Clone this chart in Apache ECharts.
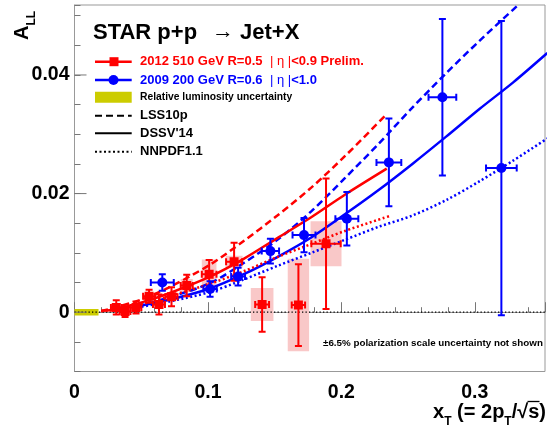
<!DOCTYPE html>
<html><head><meta charset="utf-8">
<script src="https://cdn.jsdelivr.net/npm/echarts@6/dist/echarts.min.js"></script>
<style>html,body{margin:0;padding:0;background:#fff}#c{width:548px;height:428px}</style>
</head><body><div id="c"></div>
<script>
// ---- data ----
const redX  = [0.0313,0.0379,0.0461,0.0559,0.0633,0.0727,0.0841,0.1009,0.1196,0.1406,0.1678,0.1885];
const redY  = [0.0008,0.0001,0.0008,0.0027,0.0013,0.0026,0.0045,0.0064,0.0085,0.0013,0.0012,0.01155];
const redEx = [0.0040,0.0040,0.0040,0.0045,0.0045,0.0045,0.0045,0.0055,0.0060,0.0052,0.0050,0.0110];
const redEy = [0.0012,0.0009,0.0010,0.0011,0.0017,0.0016,0.0018,0.0024,0.0032,0.0046,0.0069,0.0110];
const redSysX = [0.0035,0.0035,0.0035,0.0040,0.0040,0.0040,0.0045,0.0055,0.0064,0.0085,0.0080,0.0116];
const redSysY = [0.0003,0.0003,0.0003,0.0004,0.0004,0.0005,0.0011,0.0025,0.0010,0.0028,0.0078,0.0038];

const blueX  = [0.0658,0.1016,0.1226,0.1468,0.1720,0.2041,0.2356,0.2757,0.3199];
const blueY  = [0.0050,0.0039,0.0060,0.0103,0.0130,0.01575,0.02526,0.03625,0.0243];
const blueEx = [0.0086,0.0050,0.0052,0.0065,0.0086,0.0086,0.0093,0.0104,0.0115];
const blueEy = [0.0014,0.0013,0.0015,0.0021,0.0029,0.0045,0.0074,0.0132,0.0248];

const lss510  = [[0.02,0.0002],[0.0306,0.0008],[0.051,0.0022],[0.071,0.0042],[0.1015,0.0080],[0.1268,0.0120],[0.152,0.0163],[0.1774,0.0210],[0.2026,0.0263],[0.234,0.0334]];
const dssv510 = [[0.02,0.0002],[0.0306,0.0005],[0.051,0.0017],[0.071,0.0032],[0.1015,0.0060],[0.1268,0.0090],[0.152,0.0125],[0.1774,0.0160],[0.2026,0.0198],[0.234,0.0242]];
const nnpdf510= [[0.02,0.0002],[0.0306,0.0004],[0.051,0.0014],[0.071,0.0027],[0.1015,0.0048],[0.1268,0.0069],[0.152,0.0093],[0.1774,0.0115],[0.2026,0.0137],[0.236,0.0162]];
const lss200  = [[0.047,0.0010],[0.071,0.0025],[0.1015,0.0049],[0.1268,0.0083],[0.152,0.0122],[0.1774,0.0170],[0.2026,0.0226],[0.2279,0.0284],[0.2532,0.0345],[0.2785,0.0403],[0.3037,0.0458],[0.3325,0.0518]];
const dssv200 = [[0.047,0.0010],[0.071,0.0021],[0.1015,0.0040],[0.1268,0.0064],[0.152,0.0093],[0.1774,0.0126],[0.2026,0.0165],[0.2279,0.0206],[0.2532,0.0250],[0.2785,0.0296],[0.3037,0.0343],[0.329,0.0388],[0.3543,0.0437]];
const nnpdf200= [[0.047,0.0008],[0.071,0.0018],[0.1015,0.0034],[0.1268,0.0055],[0.152,0.0078],[0.1774,0.0100],[0.2026,0.0122],[0.2279,0.0144],[0.2532,0.0163],[0.2785,0.0189],[0.3037,0.0221],[0.329,0.0256],[0.3543,0.0293]];

const lumiBand = [0, 0.018, 0.00055];   // x from, x to, half height
const yMajorTicks = [0, 0.02, 0.04];

// ---- chart ----
const FONT = '"Liberation Sans", Arial, Helvetica, sans-serif';
const RED = '#ff0000', BLUE = '#0000ff';
const chart = echarts.init(document.getElementById('c'), null, {renderer:'canvas'});

function errRender(color, isSquare) {
  return function(params, api) {
    const x = api.value(0), y = api.value(1), ex = api.value(2), ey = api.value(3);
    const c = api.coord([x, y]);
    const l = api.coord([x - ex, y]), r = api.coord([x + ex, y]);
    const t = api.coord([x, y + ey]), b = api.coord([x, y - ey]);
    const st = {stroke: color, lineWidth: 2};
    const cap = 3.5;
    const ch = [
      {type:'line', shape:{x1:l[0], y1:c[1], x2:r[0], y2:c[1]}, style:st},
      {type:'line', shape:{x1:c[0], y1:t[1], x2:c[0], y2:b[1]}, style:st},
      {type:'line', shape:{x1:l[0], y1:c[1]-cap, x2:l[0], y2:c[1]+cap}, style:st},
      {type:'line', shape:{x1:r[0], y1:c[1]-cap, x2:r[0], y2:c[1]+cap}, style:st},
      {type:'line', shape:{x1:c[0]-cap, y1:t[1], x2:c[0]+cap, y2:t[1]}, style:st},
      {type:'line', shape:{x1:c[0]-cap, y1:b[1], x2:c[0]+cap, y2:b[1]}, style:st}
    ];
    if (isSquare) ch.push({type:'rect', shape:{x:c[0]-4.5, y:c[1]-4.5, width:9, height:9}, style:{fill:color}});
    else ch.push({type:'circle', shape:{cx:c[0], cy:c[1], r:5}, style:{fill:color}});
    return {type:'group', children: ch};
  };
}

function curve(data, color, type) {
  return {type:'line', data: data, symbol:'none', smooth: 0.3, silent:true, z:3,
    lineStyle:{color: color, width: 2.5, type: type}, clip: true};
}

const option = {
  animation: false,
  backgroundColor: '#fff',
  grid: {left: 74.5, top: 5, width: 476, height: 366.5, show: true, borderColor: '#999', borderWidth: 1},
  xAxis: {type:'value', min: 0, max: 476/1350, interval: 0.1,
    axisLine:{lineStyle:{color:'#999', width:1}},
    axisTick:{inside:true, length:10, lineStyle:{color:'#777'}},
    minorTick:{show:true, splitNumber:5, length:5, lineStyle:{color:'#777'}},
    splitLine:{show:false}, minorSplitLine:{show:false},
    axisLabel:{margin: 11, fontFamily: FONT, fontWeight:'bold', fontSize: 19.5, color:'#000',
      formatter: v => { const k = v/0.1; if (Math.abs(k-Math.round(k))>1e-6) return ''; return Math.abs(v)<1e-9 ? '0' : v.toFixed(1); }}
  },
  yAxis: {type:'value', min: -0.01, max: 0.0518, interval: 0.005,
    axisLine:{lineStyle:{color:'#999', width:1}},
    axisTick:{inside:true, length:6, lineStyle:{color:'#777'}},
    splitLine:{show:false},
    axisLabel:{margin: 5, fontFamily: FONT, fontWeight:'bold', fontSize: 19.5, color:'#000',
      formatter: v => { const k = v/0.02; if (Math.abs(k-Math.round(k))>1e-6 || v < -1e-9) return ''; return Math.abs(v)<1e-9 ? '0' : v.toFixed(2); }}
  },
  series: [
    {type:'custom', name:'sys', z:1, silent:true, clip:true,
      data: redX.map((x,i)=>[x, redY[i], redSysX[i], redSysY[i]]),
      renderItem: (p, api) => {
        const x=api.value(0), y=api.value(1), sx=api.value(2), sy=api.value(3);
        const a = api.coord([x-sx, y+sy]), b = api.coord([x+sx, y-sy]);
        return {type:'rect', shape:{x:a[0], y:a[1], width:b[0]-a[0], height:b[1]-a[1]}, style:{fill:'#f9c8c8'}};
      }},
    {type:'custom', name:'lumi', z:1, silent:true, clip:true,
      data: [lumiBand],
      renderItem: (p, api) => {
        const a = api.coord([api.value(0), api.value(2)]), b = api.coord([api.value(1), -api.value(2)]);
        return {type:'rect', shape:{x:a[0], y:a[1], width:b[0]-a[0], height:b[1]-a[1]}, style:{fill:'#cccc00'}};
      }},
    {type:'line', name:'zero', z:2, silent:true, symbol:'none', data:[[0,0],[476/1350,0]],
      lineStyle:{color:'#000', width:1.3, type:[1.3,2.2]}},
    curve(lss200, BLUE, [7,4]),
    curve(dssv200, BLUE, 'solid'),
    curve(nnpdf200, BLUE, [2,2.5]),
    curve(lss510, RED, [7,4]),
    curve(dssv510, RED, 'solid'),
    curve(nnpdf510, RED, [2,2.5]),
    {type:'custom', name:'red', z:4, silent:true, clip:true,
      data: redX.map((x,i)=>[x, redY[i], redEx[i], redEy[i]]), renderItem: errRender(RED, true)},
    {type:'custom', name:'blue', z:5, silent:true, clip:true,
      data: blueX.map((x,i)=>[x, blueY[i], blueEx[i], blueEy[i]]), renderItem: errRender(BLUE, false)},
    {type:'custom', name:'ymajor', z:6, silent:true, clip:false,
      data: yMajorTicks.map(v=>[0, v]),
      renderItem: (p, api) => {
        const c = api.coord([api.value(0), api.value(1)]);
        return {type:'line', shape:{x1:c[0], y1:c[1], x2:c[0]+12, y2:c[1]}, style:{stroke:'#777', lineWidth:1}};
      }}
  ],
  graphic: [
    {type:'text', x: 93, y: 33, style:{text:'STAR p+p', font:'bold 22px '+FONT, fill:'#000', verticalAlign:'middle'}},
    {type:'text', x: 212, y: 32, style:{text:'\u2192', font:'22px '+FONT, fill:'#000', verticalAlign:'middle'}},
    {type:'text', x: 240, y: 33, style:{text:'Jet+X', font:'bold 22px '+FONT, fill:'#000', verticalAlign:'middle'}},
    // red entry
    {type:'line', shape:{x1:95, y1:61.7, x2:131.7, y2:61.7}, style:{stroke:RED, lineWidth:2.5}},
    {type:'rect', shape:{x:109.5, y:57.2, width:9, height:9}, style:{fill:RED}},
    {type:'text', x:140, y:61.7, style:{text:'2012 510 GeV R=0.5', font:'bold 13px '+FONT, fill:RED, verticalAlign:'middle'}},
    {type:'text', x:270, y:61.7, style:{text:'{n|| \u03B7 |}{b|<0.9 Prelim.}', fill:RED, verticalAlign:'middle',
      rich:{n:{font:'13px '+FONT}, b:{font:'bold 13px '+FONT}}}},
    // blue entry
    {type:'line', shape:{x1:95, y1:80, x2:131.7, y2:80}, style:{stroke:BLUE, lineWidth:2.5}},
    {type:'circle', shape:{cx:113.5, cy:80, r:5}, style:{fill:BLUE}},
    {type:'text', x:140, y:80, style:{text:'2009 200 GeV R=0.6', font:'bold 13px '+FONT, fill:BLUE, verticalAlign:'middle'}},
    {type:'text', x:270, y:80, style:{text:'{n|| \u03B7 |}{b|<1.0}', fill:BLUE, verticalAlign:'middle',
      rich:{n:{font:'13px '+FONT}, b:{font:'bold 13px '+FONT}}}},
    // lumi
    {type:'rect', shape:{x:95, y:91.7, width:36.7, height:11}, style:{fill:'#cccc00'}},
    {type:'text', x:140, y:97.5, style:{text:'Relative luminosity uncertainty', font:'bold 10.3px '+FONT, fill:'#000', verticalAlign:'middle'}},
    // theory
    {type:'line', shape:{x1:95, y1:115.7, x2:131.7, y2:115.7}, style:{stroke:'#000', lineWidth:2, lineDash:[7,4]}},
    {type:'text', x:140, y:115.7, style:{text:'LSS10p', font:'bold 13px '+FONT, fill:'#000', verticalAlign:'middle'}},
    {type:'line', shape:{x1:95, y1:133.3, x2:131.7, y2:133.3}, style:{stroke:'#000', lineWidth:2}},
    {type:'text', x:140, y:133.3, style:{text:"DSSV'14", font:'bold 13px '+FONT, fill:'#000', verticalAlign:'middle'}},
    {type:'line', shape:{x1:95, y1:151.7, x2:131.7, y2:151.7}, style:{stroke:'#000', lineWidth:2, lineDash:[2,2.5]}},
    {type:'text', x:140, y:151.7, style:{text:'NNPDF1.1', font:'bold 13px '+FONT, fill:'#000', verticalAlign:'middle'}},
    // note
    {type:'text', x:323, y:343, style:{text:'\u00B16.5% polarization scale uncertainty not shown', font:'bold 9.8px '+FONT, fill:'#000', verticalAlign:'middle'}},
    // y title
    {type:'text', x:12, y:40, rotation: Math.PI/2, style:{
      text:'{a|A}{s|LL}', fill:'#000', align:'left', verticalAlign:'top',
      rich:{a:{font:'bold 20px '+FONT, lineHeight:20, verticalAlign:'top'}, s:{font:'bold 12px '+FONT, lineHeight:12, padding:[14,0,0,0], verticalAlign:'top'}}}},
    // x title
    {type:'text', x:546, y:402, style:{
      text:'{a|x}{s|T}{a| (= 2p}{s|T}{a|/\u221As)}', fill:'#000', align:'right', verticalAlign:'top',
      rich:{a:{font:'bold 20px '+FONT, lineHeight:20, verticalAlign:'top'}, s:{font:'bold 12px '+FONT, lineHeight:12, padding:[14,0,0,0], verticalAlign:'top'}}}},
    {type:'line', shape:{x1:527.5, y1:401.5, x2:539.5, y2:401.5}, style:{stroke:'#000', lineWidth:1.3}}
  ]
};
chart.setOption(option);
</script></body></html>
